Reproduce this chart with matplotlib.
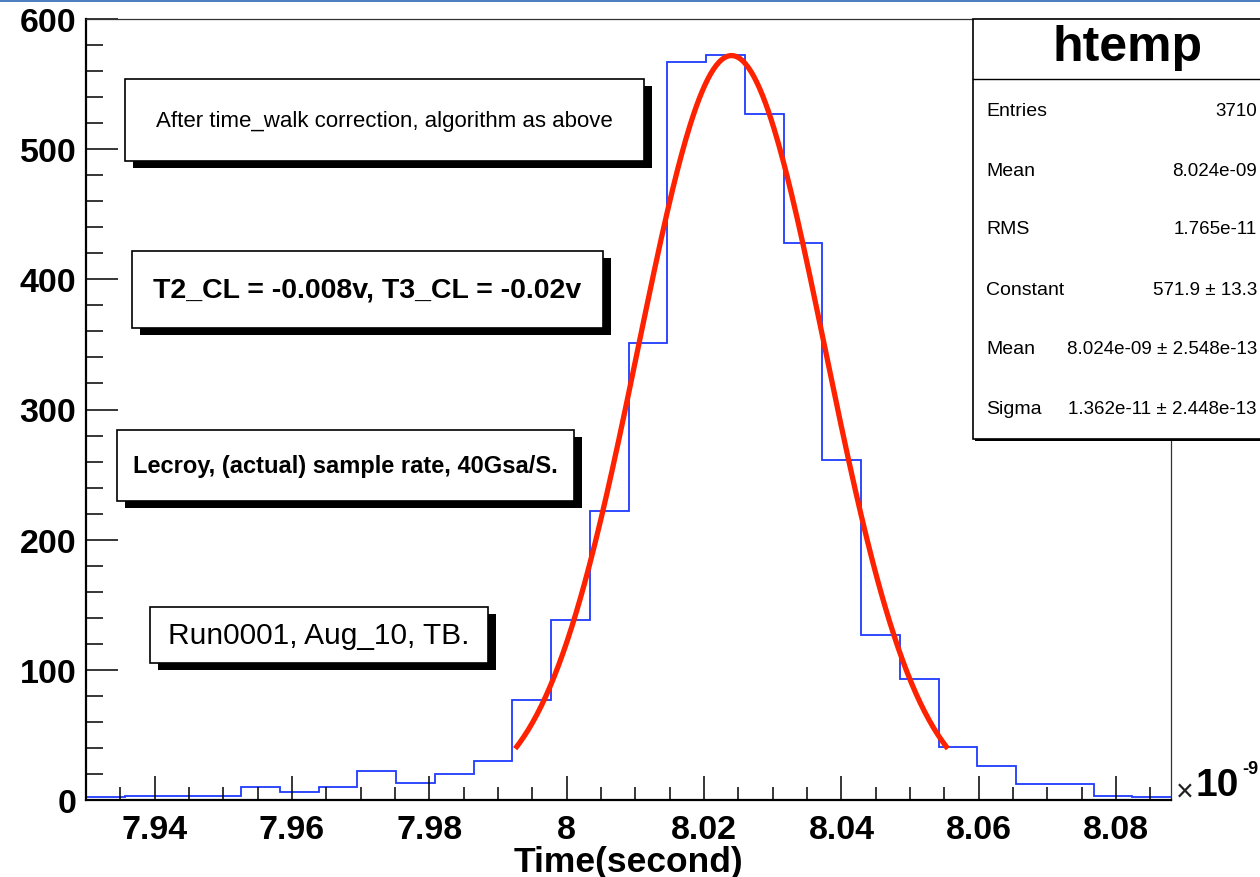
import numpy as np
import matplotlib
matplotlib.use("Agg")
import matplotlib.pyplot as plt
from matplotlib.patches import Rectangle
from matplotlib.ticker import MultipleLocator

plt.rcParams['font.family'] = ['Liberation Sans', 'DejaVu Sans']

# histogram (x in units of 1e-9 s)
x_min, x_max, n_bins = 7.930, 8.088, 28
counts = [2, 3, 3, 3, 10, 6, 10, 22, 13, 20, 30, 77, 138, 222,
          351, 567, 572, 527, 428, 261, 127, 93, 41, 26, 12, 12, 3, 2]

# gaussian fit result
fit_const, fit_mean, fit_sigma = 571.9, 8.024, 0.01362
fit_lo, fit_hi = 7.9925, 8.0555

x_ticks = [7.94, 7.96, 7.98, 8.00, 8.02, 8.04, 8.06, 8.08]
x_ticklabels = ['7.94', '7.96', '7.98', '8', '8.02', '8.04', '8.06', '8.08']
y_ticks = [0, 100, 200, 300, 400, 500, 600]

stats_labels = ['Entries', 'Mean', 'RMS', 'Constant', 'Mean', 'Sigma']
stats_values = ['3710', '8.024e-09', '1.765e-11', '571.9 \u00b1 13.3',
                '8.024e-09 \u00b1 2.548e-13', '1.362e-11 \u00b1 2.448e-13']

W, H = 1260, 878
fig = plt.figure(figsize=(W / 100, H / 100), dpi=100)
fig.patch.set_facecolor('white')


def fx(x):
    return x / W


def fy(y):
    return 1 - y / H


ax = fig.add_axes([fx(86), fy(801), fx(1171) - fx(86), fy(20) - fy(801)])

edges = np.linspace(x_min, x_max, n_bins + 1)
ax.stairs(counts, edges, color='#1f3cff', lw=1.3, baseline=None)

xs = np.linspace(fit_lo, fit_hi, 300)
ax.plot(xs, fit_const * np.exp(-0.5 * ((xs - fit_mean) / fit_sigma) ** 2),
        color='#ff2200', lw=3.8, solid_capstyle='butt')

ax.set_xlim(x_min, x_max)
ax.set_ylim(0, 600)
ax.set_xticks(x_ticks)
ax.set_xticklabels(x_ticklabels)
ax.set_yticks(y_ticks)
ax.xaxis.set_minor_locator(MultipleLocator(0.005))
ax.yaxis.set_minor_locator(MultipleLocator(20))
ax.tick_params(axis='x', which='major', direction='in', length=17, width=1.1,
               labelsize=24.5, pad=10)
ax.tick_params(axis='x', which='minor', direction='in', length=9.5, width=1.1)
ax.tick_params(axis='y', which='major', direction='in', length=23, width=1.1,
               labelsize=24.5, pad=7)
ax.tick_params(axis='y', which='minor', direction='in', length=12, width=1.1)
for lab in ax.get_xticklabels() + ax.get_yticklabels():
    lab.set_fontweight('bold')
for s in ['left', 'bottom']:
    ax.spines[s].set_linewidth(1.6)
for s in ['top', 'right']:
    ax.spines[s].set_linewidth(0.9)
    ax.spines[s].set_color('#333333')

ax.set_xlabel('Time(second)', fontsize=25.5, fontweight='bold', labelpad=0)

# x10^-9 multiplier
fig.text(fx(1185), fy(793), '\u00d7', fontsize=22, ha='center', va='center',
         color='#222222')
fig.text(fx(1195), fy(786), '10', fontsize=28, fontweight='bold',
         ha='left', va='center')
fig.text(fx(1242), fy(770), '-9', fontsize=13, fontweight='bold',
         ha='left', va='center')


def pave(x0, y0, x1, y1, text, size, weight, dx=8, dy=7):
    fig.patches.append(Rectangle((fx(x0 + dx), fy(y1 + dy)), fx(x1 - x0),
                                 fy(y0) - fy(y1), transform=fig.transFigure,
                                 facecolor='black', edgecolor='none', zorder=5))
    fig.patches.append(Rectangle((fx(x0), fy(y1)), fx(x1 - x0),
                                 fy(y0) - fy(y1), transform=fig.transFigure,
                                 facecolor='white', edgecolor='black', lw=1.2,
                                 zorder=6))
    fig.text(fx((x0 + x1) / 2), fy((y0 + y1) / 2), text, fontsize=size,
             fontweight=weight, ha='center', va='center', zorder=7)


pave(125, 80, 644, 162, 'After time_walk correction, algorithm as above', 16, 'normal')
pave(132, 252, 603, 329, 'T2_CL = -0.008v, T3_CL = -0.02v', 20.5, 'bold')
pave(117, 431, 574, 502, 'Lecroy, (actual) sample rate, 40Gsa/S.', 17, 'bold')
pave(150, 608, 488, 664, 'Run0001, Aug_10, TB.', 21.5, 'normal')

# stats box
fig.patches.append(Rectangle((fx(975), fy(442)), fx(300), fy(20) - fy(442),
                             transform=fig.transFigure, facecolor='black',
                             edgecolor='none', zorder=5))
fig.patches.append(Rectangle((fx(973), fy(440)), fx(300), fy(20) - fy(440),
                             transform=fig.transFigure, facecolor='white',
                             edgecolor='black', lw=1.2, zorder=6))
fig.lines.append(plt.Line2D([fx(973), 1], [fy(80), fy(80)],
                            transform=fig.transFigure, color='black', lw=1.0,
                            zorder=7))
fig.text(fx(1127), fy(48), 'htemp', fontsize=36, fontweight='bold',
         ha='center', va='center', zorder=7)
row_y = [112, 171, 230, 291, 350, 410]
for lab, val, yy in zip(stats_labels, stats_values, row_y):
    fig.text(fx(986), fy(yy), lab, fontsize=14, ha='left', va='center', zorder=7)
    fig.text(fx(1257), fy(yy), val, fontsize=13.5, ha='right', va='center', zorder=7)

# window frame strip at top
fig.patches.append(Rectangle((0, fy(3)), 1, fy(0) - fy(3),
                             transform=fig.transFigure, facecolor='#4f7fbf',
                             edgecolor='none', zorder=8))

fig.savefig('out.png', dpi=100)
